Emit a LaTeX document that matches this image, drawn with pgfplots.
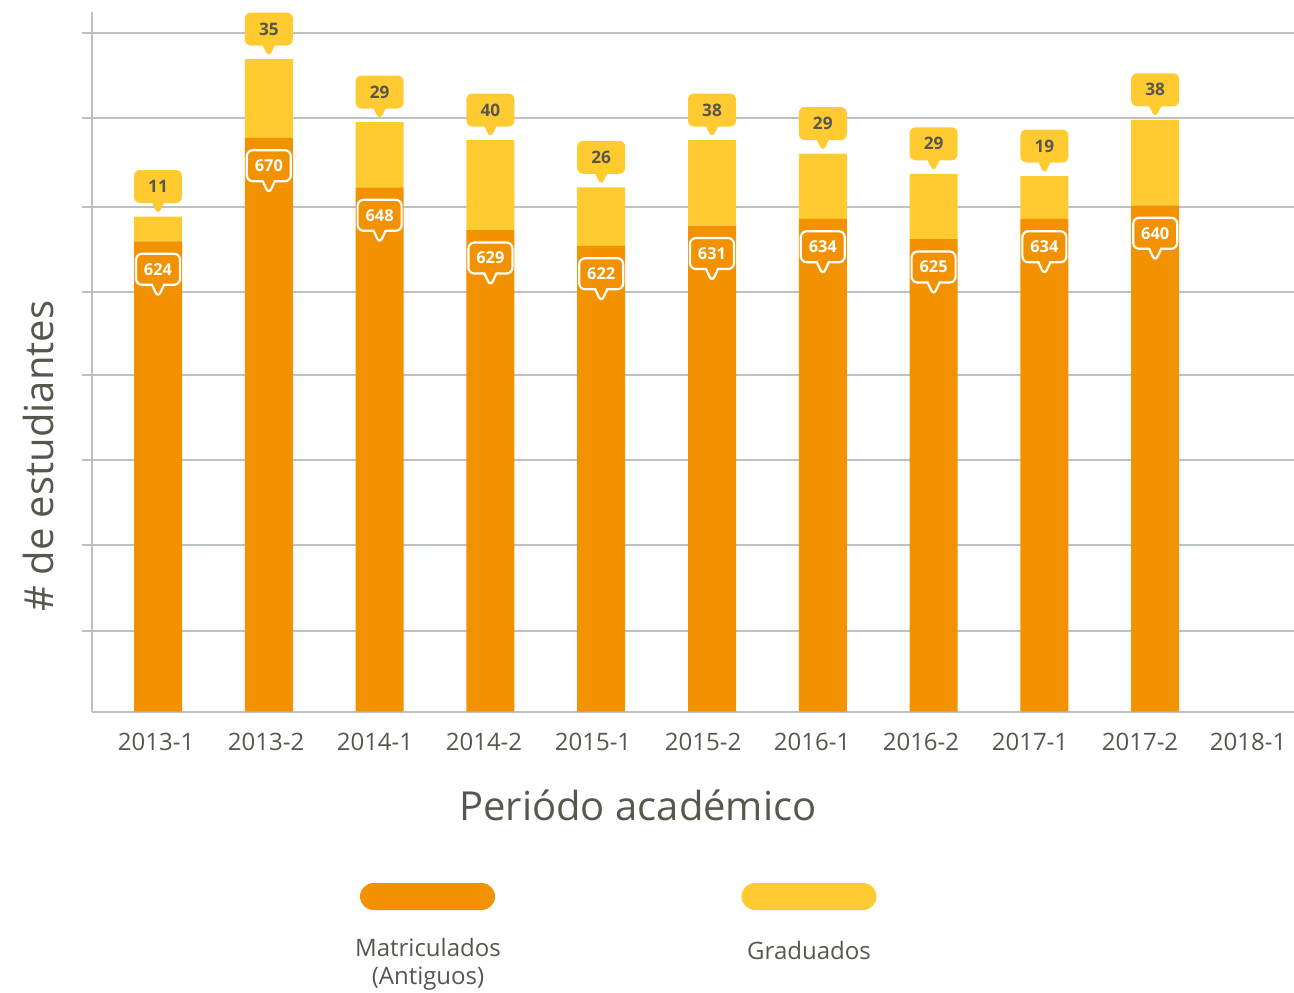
\documentclass[border=0pt]{standalone}
\usepackage{fontspec}
\setmainfont{Open Sans}
\usepackage{pgfplots}
\pgfplotsset{compat=1.18}
\usetikzlibrary{shapes.callouts}
\definecolor{orangeM}{HTML}{F39200}
\definecolor{yellowG}{HTML}{FFCB31}
\definecolor{gridc}{HTML}{BCC1C5}
\definecolor{txt}{HTML}{57564F}
\begin{document}
\begin{tikzpicture}
\path[use as bounding box] (0,0) rectangle (647pt,496pt);
\begin{axis}[
  at={(46pt,140.25pt)}, anchor=south west,
  scale only axis, width=601pt, height=349.75pt,
  xmin=-0.596, xmax=10.253, ymin=415, ymax=725.9,
  ybar stacked, bar width=24pt,
  clip mode=individual,
  axis x line=bottom, axis y line=left,
  axis line style={-, draw=gridc, line width=1pt},
  xtick={-0.018,0.975,1.958,2.942,3.926,4.919,5.903,6.886,7.870,8.863,9.838},
  xticklabels={2013-1,2013-2,2014-1,2014-2,2015-1,2015-2,2016-1,2016-2,2017-1,2017-2,2018-1},
  xtick style={draw=none},
  ytick={450.9,489,526.8,564.6,601.4,639.2,678.8,716.6},
  yticklabels={},
  ymajorgrids,
  grid style={draw=gridc, line width=0.8pt},
  ytick style={draw=gridc, line width=0.8pt},
  tick align=outside, major tick length=5pt,
  xticklabel style={font=\fontsize{12}{14}\selectfont, text=txt, anchor=center, yshift=-10.25pt},
  xlabel={Periódo académico}, ylabel={\# de estudiantes},
  xlabel style={at={(axis description cs:0.4542,-0.1337)}, anchor=center, font=\fontsize{20}{24}\selectfont, text=txt},
  ylabel style={at={(axis description cs:-0.0449,0.365)}, anchor=center, font=\fontsize{20}{24}\selectfont, text=txt},
  point meta=explicit symbolic,
  visualization depends on={rawy \as \rawy},
  nodes near coords,
]
\addplot[fill=orangeM, draw=none,
  nodes near coords style={rectangle callout, callout relative pointer={(0pt,-6.5pt)}, callout pointer width=6pt,
    fill=orangeM, draw=white, line width=1.1pt, rounded corners=3pt, text=white,
    font=\fontsize{8.2}{9}\selectfont\bfseries, minimum width=22pt, minimum height=15.5pt, inner sep=1pt,
    anchor=center, yshift={\rawy*0.56248pt-14pt}}]
coordinates {(0,624)[624] (1,670)[670] (2,648)[648] (3,629)[629] (4,622)[622] (5,631)[631] (6,634)[634] (7,625)[625] (8,634)[634] (9,640)[640]};
\addplot[fill=yellowG, draw=none,
  nodes near coords style={rectangle callout, callout relative pointer={(0pt,-6pt)}, callout pointer width=6pt,
    fill=yellowG, draw=none, rounded corners=3pt, text=txt,
    font=\fontsize{8.6}{9}\selectfont\bfseries, minimum width=24pt, minimum height=16.5pt, inner sep=1pt,
    anchor=center, yshift={\rawy*0.56248pt+15pt}}]
coordinates {(0,11)[11] (1,35)[35] (2,29)[29] (3,40)[40] (4,26)[26] (5,38)[38] (6,29)[29] (7,29)[29] (8,19)[19] (9,38)[38]};
\end{axis}
\fill[orangeM, rounded corners=6.75pt] (180pt,41pt) rectangle (247.5pt,54.5pt);
\fill[yellowG, rounded corners=6.75pt] (370.75pt,41pt) rectangle (438.25pt,54.5pt);
\node[align=center, text=txt, font=\fontsize{12}{14}\selectfont] at (214pt,14pt) {Matriculados\\(Antiguos)};
\node[text=txt, font=\fontsize{12}{14}\selectfont] at (404.5pt,21pt) {Graduados};
\end{tikzpicture}
\end{document}
